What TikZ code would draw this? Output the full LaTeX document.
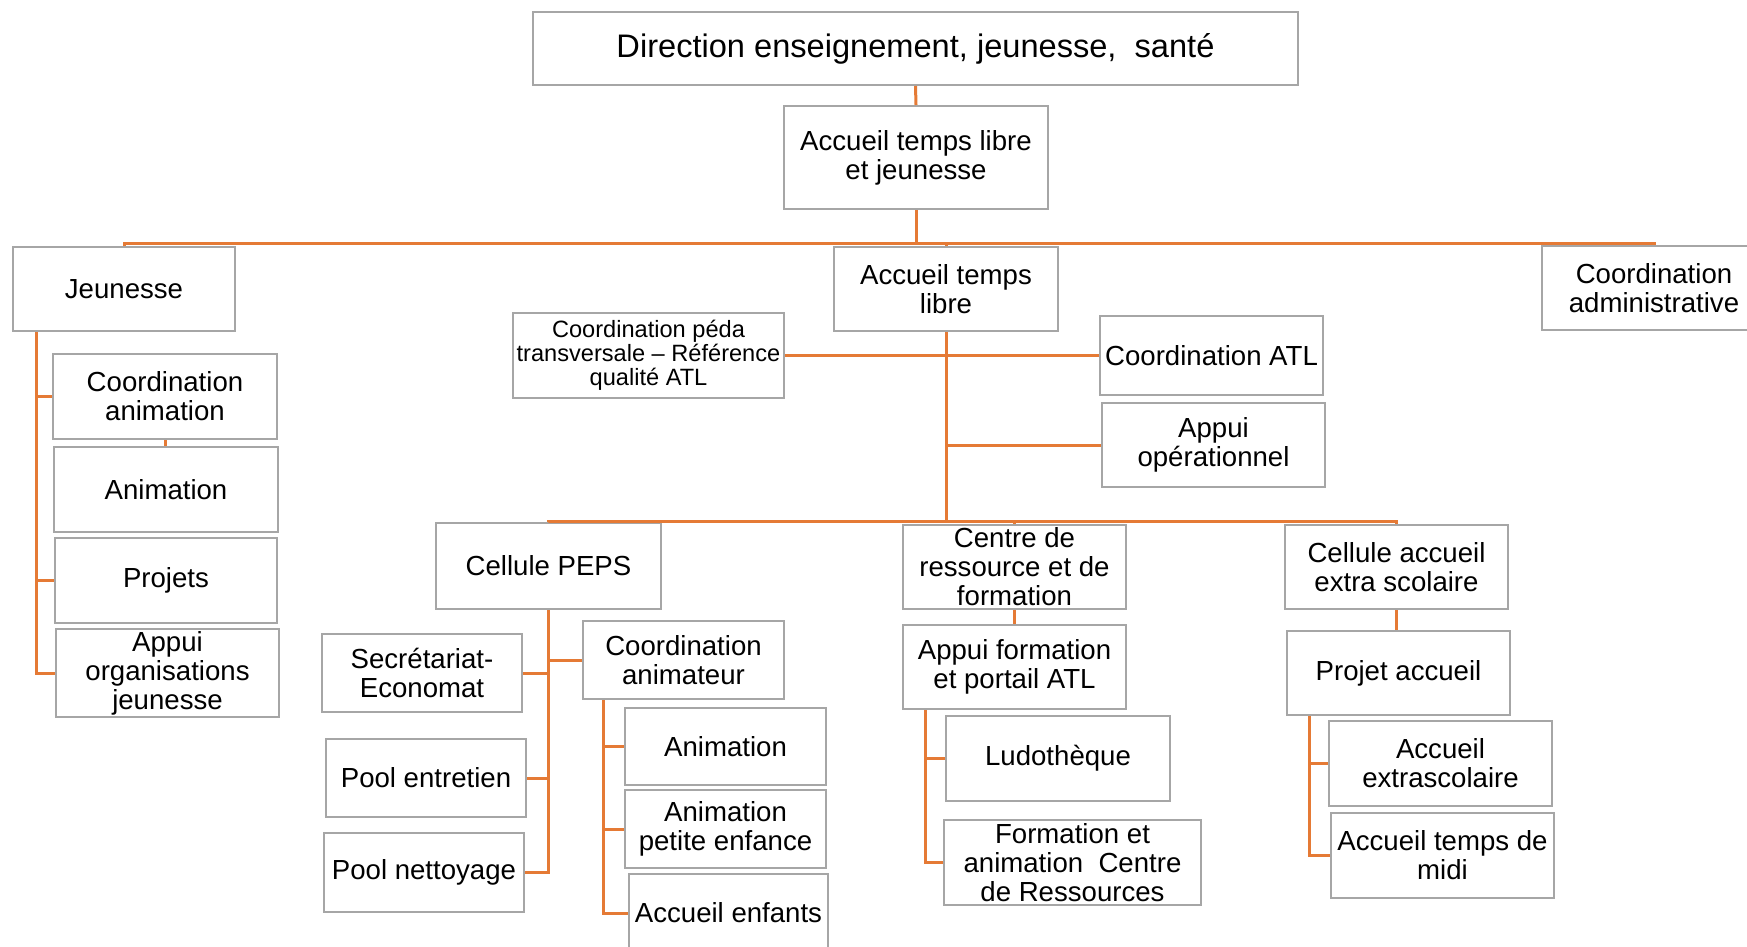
\documentclass[tikz,border=0pt]{standalone}
\usepackage{fontspec}
\setmainfont{Liberation Sans}
\usepackage{tikz}
\usetikzlibrary{positioning,calc}
\definecolor{orangelien}{RGB}{229,122,53}
\definecolor{grisbord}{RGB}{166,166,166}

\begin{document}
\begin{tikzpicture}[x=0.5pt,y=-0.5pt,
  boite/.style={draw=grisbord,line width=1pt,fill=white,align=center,inner sep=1pt,
    font=\fontsize{13.8}{14.5}\selectfont},
  taille/.style 2 args={minimum width=#1*0.5pt,minimum height=#2*0.5pt},
  lien/.style={draw=orangelien,line width=1.5pt}]
  \path[use as bounding box,fill=white] (0,0) rectangle (1747,947);

  % direction
  \node[boite,taille={765}{73},font=\fontsize{16.3}{18}\selectfont] (dir) at (915.5,48.5) {Direction enseignement, jeunesse,\ \ santé};
  \node[boite,taille={264}{103}] (atlj) at (916,157.5) {Accueil temps libre\\et jeunesse};

  % premier niveau
  \node[boite,taille={222}{84}] (jeu) at (124,289) {Jeunesse};
  \node[boite,taille={224}{84}] (atl) at (946,289) {Accueil temps\\libre};
  \node[boite,taille={224}{84}] (cadm) at (1654,288) {Coordination\\administrative};

  % autour de l'accueil temps libre
  \node[boite,taille={271}{85},font=\fontsize{11.8}{12}\selectfont] (peda) at (648.5,355.5) {Coordination péda\\transversale – Référence\\qualité ATL};
  \node[boite,taille={223}{79}] (catl) at (1211.5,355.5) {Coordination ATL};
  \node[boite,taille={223}{84}] (appop) at (1213.5,445) {Appui\\opérationnel};

  % jeunesse
  \node[boite,taille={224}{85}] (coan) at (165,396.5) {Coordination\\animation};
  \node[boite,taille={224}{85}] (anj) at (166,489.5) {Animation};
  \node[boite,taille={222}{85}] (proj) at (166,580.5) {Projets};
  \node[boite,taille={223}{84}] (appor) at (167.5,673) {Appui\\organisations\\jeunesse};

  % second niveau
  \node[boite,taille={225}{86}] (peps) at (548.5,566) {Cellule PEPS};
  \node[boite,taille={223}{84}] (crf) at (1014.5,567) {Centre de\\ressource et de\\formation};
  \node[boite,taille={223}{84}] (caes) at (1396.5,567) {Cellule accueil\\extra scolaire};

  % cellule PEPS
  \node[boite,taille={200}{78}] (secr) at (422,673) {Secrétariat-\\Economat};
  \node[boite,taille={201}{78}] (coanim) at (683.5,660) {Coordination\\animateur};
  \node[boite,taille={200}{78}] (poolent) at (426,778) {Pool entretien};
  \node[boite,taille={200}{79}] (poolnet) at (424,872.5) {Pool nettoyage};
  \node[boite,taille={201}{77}] (anp) at (725.5,746.5) {Animation};
  \node[boite,taille={201}{78}] (anpe) at (725.5,829) {Animation\\petite enfance};
  \node[boite,taille={199}{78}] (accenf) at (728.5,913) {Accueil enfants};

  % centre de ressource
  \node[boite,taille={223}{84}] (afp) at (1014.5,667) {Appui formation\\et portail ATL};
  \node[boite,taille={224}{85}] (ludo) at (1058,758.5) {Ludothèque};
  \node[boite,taille={257}{85}] (form) at (1072.5,862.5) {Formation et\\animation\ \ Centre\\de Ressources};

  % accueil extra scolaire
  \node[boite,taille={223}{84}] (pacc) at (1398.5,673) {Projet accueil};
  \node[boite,taille={223}{85}] (aext) at (1440.5,763.5) {Accueil\\extrascolaire};
  \node[boite,taille={223}{85}] (amidi) at (1442.5,855.5) {Accueil temps de\\midi};

  % liens du haut
  \coordinate (b1) at (916,243);
  \coordinate (b2) at (946,521);
  \draw[lien] (dir.south) -- (atlj.north);
  \draw[lien] (atlj.south) -- (b1);
  \draw[lien] (jeu.north) |- (b1) -| (cadm.north);
  \draw[lien] (b1) -| (atl.north);
  \draw[lien] (atl.south) -- (b2);
  \draw[lien] (peda.east) -- (catl.west);
  \draw[lien] (appop.west) -- (appop.west -| b2);
  \draw[lien] (peps.north) |- (b2) -| (caes.north);
  \draw[lien] (b2) -| (crf.north);

  % liens jeunesse
  \coordinate (jx) at (36,0);
  \draw[lien] (jx |- jeu.south) |- (appor.west);
  \draw[lien] (jx |- coan.west) -- (coan.west);
  \draw[lien] (jx |- proj.west) -- (proj.west);
  \draw[lien] (coan.south) -- (coan.south |- anj.north);

  % liens cellule PEPS
  \draw[lien] (peps.south) |- (poolnet.east);
  \foreach \n in {secr,poolent}
    \draw[lien] (\n.east) -- (\n.east -| peps.south);
  \draw[lien] (coanim.west) -- (coanim.west -| peps.south);
  \coordinate (cx) at (603,0);
  \draw[lien] (cx |- coanim.south) |- (accenf.west);
  \foreach \n in {anp,anpe}
    \draw[lien] (cx |- \n.west) -- (\n.west);

  % liens centre de ressource
  \draw[lien] (crf.south) -- (afp.north);
  \coordinate (fx) at (925,0);
  \draw[lien] (fx |- afp.south) |- (form.west);
  \draw[lien] (fx |- ludo.west) -- (ludo.west);

  % liens accueil extra scolaire
  \draw[lien] (caes.south) -- (caes.south |- pacc.north);
  \coordinate (px) at (1309,0);
  \draw[lien] (px |- pacc.south) |- (amidi.west);
  \draw[lien] (px |- aext.west) -- (aext.west);
\end{tikzpicture}
\end{document}
